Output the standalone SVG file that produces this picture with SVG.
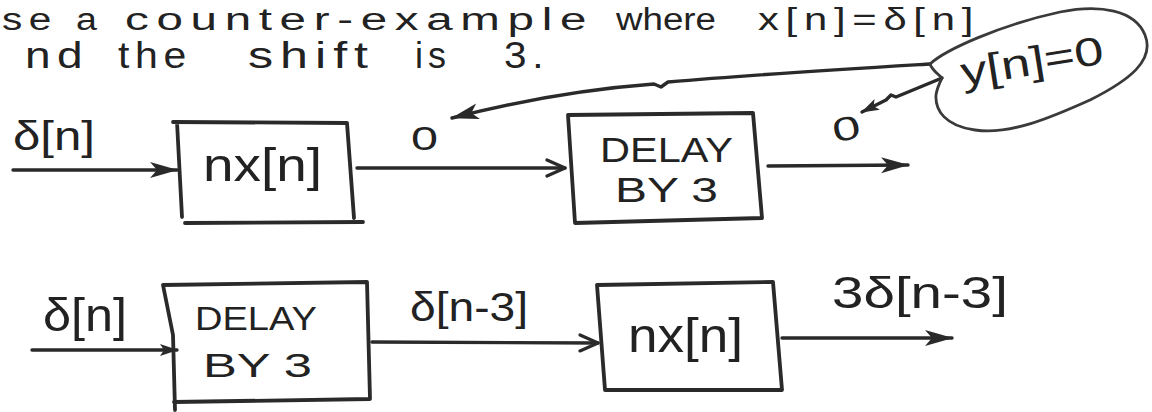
<svg xmlns="http://www.w3.org/2000/svg" width="1152" height="412" viewBox="0 0 1152 412">
<style>
.t{font-family:"Liberation Sans","DejaVu Sans",sans-serif;fill:#222;}
.h{letter-spacing:5px;}
.ln{fill:none;stroke:#2a2a2a;stroke-width:3.4;stroke-linecap:round;stroke-linejoin:round;}
.box{fill:none;stroke:#2a2a2a;stroke-width:3.8;stroke-linecap:round;stroke-linejoin:round;}
.bal{fill:none;stroke:#3a3a3a;stroke-width:2.8;stroke-linejoin:round;}
</style>
<defs>
<marker id="af" markerUnits="userSpaceOnUse" markerWidth="28" markerHeight="18" viewBox="0 0 28 18" refX="27" refY="9" orient="auto"><path d="M0,1 L28,9 L0,17 L7,9 Z" fill="#2a2a2a"/></marker>
<marker id="ao" markerUnits="userSpaceOnUse" markerWidth="22" markerHeight="20" viewBox="0 0 22 20" refX="20" refY="10" orient="auto"><path d="M2,2 L20,10 L2,18" fill="none" stroke="#2a2a2a" stroke-width="3.2" stroke-linecap="round" stroke-linejoin="round"/></marker>
<marker id="as" markerUnits="userSpaceOnUse" markerWidth="18" markerHeight="13" viewBox="0 0 18 13" refX="17" refY="6.5" orient="auto"><path d="M0,0.5 L18,6.5 L0,12.5 L4,6.5 Z" fill="#2a2a2a"/></marker>
</defs>

<g id="heading">
<text class="t h" x="2" y="30" font-size="31" textLength="56" lengthAdjust="spacingAndGlyphs">se</text>
<text class="t h" x="76" y="30" font-size="31" textLength="27" lengthAdjust="spacingAndGlyphs">a</text>
<text class="t h" x="125" y="30" font-size="31" textLength="469" lengthAdjust="spacingAndGlyphs">counter-example</text>
<text class="t" x="616" y="30" font-size="31" textLength="100" lengthAdjust="spacingAndGlyphs">where</text>
<text class="t h" x="758" y="30" font-size="31" textLength="222" lengthAdjust="spacingAndGlyphs">x[n]=δ[n]</text>
<text class="t h" x="25" y="68" font-size="36" textLength="64" lengthAdjust="spacingAndGlyphs">nd</text>
<text class="t h" x="118" y="68" font-size="36" textLength="74" lengthAdjust="spacingAndGlyphs">the</text>
<text class="t h" x="248" y="68" font-size="36" textLength="127" lengthAdjust="spacingAndGlyphs">shift</text>
<text class="t h" x="415" y="68" font-size="36" textLength="36" lengthAdjust="spacingAndGlyphs">is</text>
<text class="t h" x="504" y="68" font-size="36" textLength="45" lengthAdjust="spacingAndGlyphs">3.</text>
</g>

<g id="connectors">
<path class="ln" d="M13,170 L177,170" marker-end="url(#af)"/>
<path class="ln" d="M357,168 L565,168" marker-end="url(#ao)"/>
<path class="ln" d="M768,166 L908,165" marker-end="url(#af)"/>
<path class="ln" d="M930,64 C880,67 760,74 668,82 L661,87 L654,84 C600,88 530,98 452,118" marker-end="url(#af)"/>
<path class="ln" d="M942,78 L896,97 L891,95 L886,100 L862,112" marker-end="url(#as)"/>
<path class="ln" d="M32,350 L177,350" marker-end="url(#as)"/>
<path class="ln" d="M372,342 L598,343" marker-end="url(#ao)"/>
<path class="ln" d="M782,338 L952,338" marker-end="url(#af)"/>
</g>

<g id="label-in-top">
<text class="t" x="13" y="150" font-size="40" textLength="82" lengthAdjust="spacingAndGlyphs">δ[n]</text>
</g>
<g id="label-zero-mid">
<text class="t" x="411" y="150" font-size="33" textLength="27" lengthAdjust="spacingAndGlyphs">0</text>
</g>
<g id="label-zero-out">
<text class="t" x="832" y="140" font-size="33" textLength="28" lengthAdjust="spacingAndGlyphs" transform="rotate(-12 846 127)">0</text>
</g>

<g id="node-mult-top">
<path class="box" d="M173,122 L347,123 M177,122 L182,217 M347,123 L354,218 M185,223 L363,222"/>
<text class="t" x="203" y="181" font-size="46" textLength="119" lengthAdjust="spacingAndGlyphs">nx[n]</text>
</g>

<g id="node-delay-top">
<path class="box" d="M568,115 L753,113 L762,218 L575,223 Z"/>
<text class="t" x="600" y="162" font-size="35" textLength="133" lengthAdjust="spacingAndGlyphs">DELAY</text>
<text class="t" x="615" y="202" font-size="35" textLength="103" lengthAdjust="spacingAndGlyphs">BY 3</text>
</g>

<g id="node-balloon">
<path class="bal" d="M930,64 C945,50 1000,25 1060,12 C1100,4 1135,10 1145,35 C1155,60 1130,80 1090,100 C1050,118 1010,135 975,130 C945,126 935,110 936,95 C937,88 940,82 942,78 C938,74 932,70 930,64 Z"/>
<text class="t" x="963" y="86" font-size="40" textLength="144" lengthAdjust="spacingAndGlyphs" transform="rotate(-9 963 86)">y[n]=0</text>
</g>

<g id="label-in-bottom">
<text class="t" x="43" y="331" font-size="46" textLength="84" lengthAdjust="spacingAndGlyphs">δ[n]</text>
</g>

<g id="node-delay-bottom">
<path class="box" d="M163,285 L367,282 L370,399 L174,402 M163,285 L173,335 L175,410"/>
<text class="t" x="195" y="330" font-size="33" textLength="122" lengthAdjust="spacingAndGlyphs">DELAY</text>
<text class="t" x="203" y="377" font-size="34" textLength="109" lengthAdjust="spacingAndGlyphs">BY 3</text>
</g>

<g id="label-mid-bottom">
<text class="t" x="410" y="321" font-size="40" textLength="118" lengthAdjust="spacingAndGlyphs">δ[n-3]</text>
</g>

<g id="node-mult-bottom">
<path class="box" d="M597,285 L773,282 L782,390 L605,390 Z"/>
<text class="t" x="628" y="352" font-size="48" textLength="115" lengthAdjust="spacingAndGlyphs">nx[n]</text>
</g>

<g id="label-out-bottom">
<text class="t" x="832" y="308" font-size="44" textLength="176" lengthAdjust="spacingAndGlyphs">3δ[n-3]</text>
</g>
</svg>
